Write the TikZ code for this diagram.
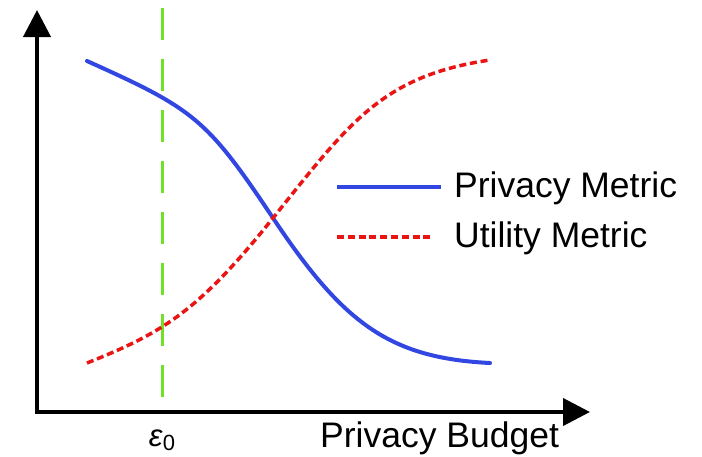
\documentclass[tikz,border=0pt]{standalone}
\usepackage{fontspec}
\setmainfont{Liberation Sans}
\usetikzlibrary{arrows.meta}
\definecolor{pblue}{RGB}{50,70,225}
\definecolor{ured}{RGB}{235,20,20}
\definecolor{egreen}{RGB}{110,225,40}
\tikzset{
  axisline/.style={line width=4pt, line join=miter,
    {Triangle[length=27pt,width=27pt]}-{Triangle[length=27pt,width=27pt]}},
  privline/.style={pblue, line width=4pt, line cap=round},
  utilline/.style={ured, line width=3.5pt, dash pattern=on 7pt off 3.8pt},
  epsline/.style={egreen, line width=3.5pt, dash pattern=on 32pt off 19pt},
  lbl/.style={inner sep=0pt, font=\fontsize{35.5}{42}\selectfont},
}
\begin{document}
\begin{tikzpicture}[x=1pt,y=-1pt]
\useasboundingbox[fill=white] (0,0) rectangle (702,456);
% axes
\coordinate (ytop) at (37,10);
\coordinate (xend) at (590,412);
\draw[axisline] (ytop) |- (xend);
% epsilon line
\coordinate (etop) at (162.5,8);
\coordinate (ebot) at (162.5,400);
\draw[epsline] (etop) -- (ebot);
% curves
\coordinate (pstart) at (87,61);
\coordinate (cross) at (273,218);
\coordinate (pend) at (490,363);
\coordinate (ustart) at (87,363);
\coordinate (uend) at (490,60);
\draw[privline] (pstart) .. controls (193.7,109) and (206.3,118) .. (cross)
  .. controls (343,323) and (389,358) .. (pend);
\draw[utilline] (ustart) .. controls (162,333) and (198,312) .. (cross)
  .. controls (350,122) and (382,76) .. (uend);
% legend
\coordinate (lb1) at (337,187);
\coordinate (lb2) at (441,187);
\coordinate (lr1) at (337,237);
\coordinate (lr2) at (433,237);
\draw[privline, line cap=butt] (lb1) -- (lb2);
\draw[utilline] (lr1) -- (lr2);
\node[lbl, anchor=base west] (tpriv) at (454,197) {Privacy Metric};
\node[lbl, anchor=base west] (tutil) at (454,247) {Utility Metric};
% axis labels
\node[lbl, anchor=base west] (tbudget) at (320,447) {Privacy Budget};
\node[inner sep=0pt, anchor=base, font=\fontsize{31}{36}\selectfont] (teps) at (162,446) {\textit{ε}\raisebox{-4pt}{\fontsize{22}{24}\selectfont 0}};
\end{tikzpicture}
\end{document}
